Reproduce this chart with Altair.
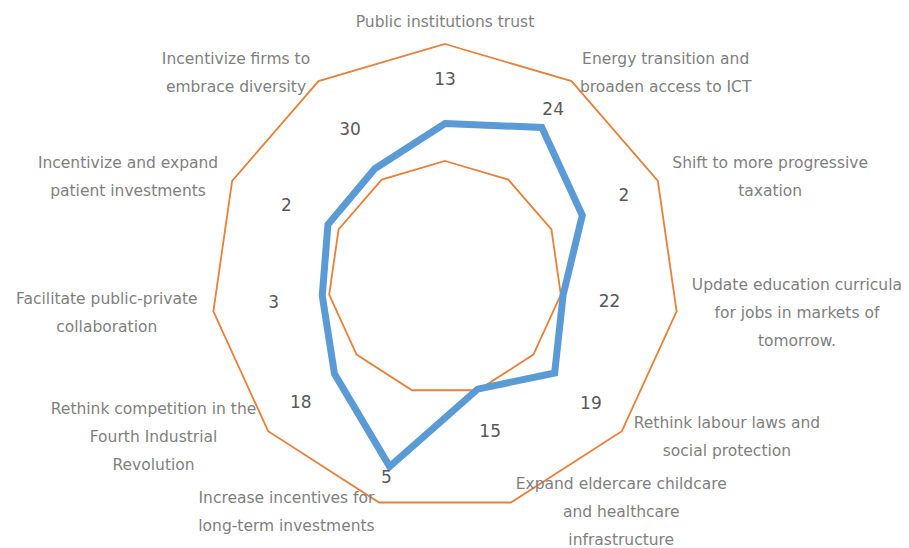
import math
import altair as alt
import pandas as pd

# ---------------- data ----------------
categories = [
    "Public institutions trust",
    "Energy transition and\nbroaden access to ICT",
    "Shift to more progressive\ntaxation",
    "Update education curricula\nfor jobs in markets of\ntomorrow.",
    "Rethink labour laws and\nsocial protection",
    "Expand eldercare childcare\nand healthcare\ninfrastructure",
    "Increase incentives for\nlong-term investments",
    "Rethink competition in the\nFourth Industrial\nRevolution",
    "Facilitate public-private\ncollaboration",
    "Incentivize and expand\npatient investments",
    "Incentivize firms to\nembrace diversity",
]
series_values = [1.32, 1.53, 1.29, 1.02, 1.24, 0.99, 1.68, 1.25, 1.06, 1.10, 1.11]
number_labels = [13, 24, 2, 22, 19, 15, 5, 18, 3, 2, 30]
grid_levels = [1, 2]

# layout (radius of the number annotations, in radial units)
number_radius = [1.69, 1.71, 1.68, 1.42, 1.65, 1.37, 1.78, 1.63, 1.48, 1.49, 1.50]
LABEL_RX = 2.13
LABEL_RY = 2.08
LABEL_R_TOP = 2.19
PX_PER_UNIT = 117.0
FONT_SIZE = 15.5
LINE_H = 28

# approximate DejaVu Sans advance widths (em) used to centre the label blocks
CHAR_EM = {
    " ": 0.318, "a": 0.613, "b": 0.635, "c": 0.550, "d": 0.635, "e": 0.615,
    "f": 0.352, "g": 0.635, "h": 0.634, "i": 0.278, "j": 0.278, "k": 0.579,
    "l": 0.278, "m": 0.974, "n": 0.634, "o": 0.612, "p": 0.635, "r": 0.411,
    "s": 0.521, "t": 0.392, "u": 0.634, "v": 0.592, "w": 0.818, "x": 0.592,
    "y": 0.592, "z": 0.525, "-": 0.361, ".": 0.318, "E": 0.632, "F": 0.575,
    "I": 0.295, "P": 0.603, "R": 0.695, "S": 0.635, "T": 0.611, "U": 0.732,
    "C": 0.698,
}


def text_px(s):
    return sum(CHAR_EM.get(ch, 0.6) for ch in s) * FONT_SIZE


N = len(categories)


def ang(i):
    return i * 2 * math.pi / N


# ---------------- tables ----------------
series_df = pd.DataFrame({"idx": range(N), "value": series_values})

grid_rows = []
for lvl in grid_levels:
    for i in range(N):
        grid_rows.append({"level": lvl, "idx": i, "value": lvl})
grid_df = pd.DataFrame(grid_rows)

lab_rows = []
for i, c in enumerate(categories):
    a = ang(i)
    s, co = math.sin(a), math.cos(a)
    lines = c.split("\n")
    half_w = max(text_px(l) for l in lines) / 2 / PX_PER_UNIT
    if abs(s) < 1e-6:
        side, ry = 0, LABEL_R_TOP
    else:
        side, ry = (1 if s > 0 else -1), LABEL_RY
    # vega draws the first line at y: shift so the block is centred on the anchor
    first_line_shift = (len(lines) - 1) * LINE_H / 2 / PX_PER_UNIT
    lab_rows.append({
        "label": c,
        "x": LABEL_RX * s + side * half_w,
        "y": ry * co + first_line_shift,
    })
lab_df = pd.DataFrame(lab_rows)

num_df = pd.DataFrame({"idx": range(N), "num": number_labels, "r": number_radius})

# ---------------- scales ----------------
W, H = 909, 548
CX, CY = 445, 278
xdom = [-CX / PX_PER_UNIT, (W - CX) / PX_PER_UNIT]
ydom = [-(H - CY) / PX_PER_UNIT, CY / PX_PER_UNIT]
xs = alt.Scale(domain=xdom, nice=False, zero=False)
ys = alt.Scale(domain=ydom, nice=False, zero=False)

polar_x = f"datum.value * sin(datum.idx * 2 * PI / {N})"
polar_y = f"datum.value * cos(datum.idx * 2 * PI / {N})"

grid = alt.Chart(grid_df).transform_calculate(
    px=polar_x, py=polar_y
).mark_line(color="#E8803A", strokeWidth=1.8, interpolate="linear-closed").encode(
    x=alt.X("px:Q", scale=xs, axis=None),
    y=alt.Y("py:Q", scale=ys, axis=None),
    detail="level:N",
    order="idx:Q",
)

series = alt.Chart(series_df).transform_calculate(
    px=polar_x, py=polar_y
).mark_line(color="#5B9BD5", strokeWidth=7, interpolate="linear-closed",
            strokeJoin="miter").encode(
    x=alt.X("px:Q", scale=xs, axis=None),
    y=alt.Y("py:Q", scale=ys, axis=None),
    order="idx:Q",
)

labels = alt.Chart(lab_df).mark_text(
    font="DejaVu Sans", fontSize=FONT_SIZE, color="#7F7F7F", align="center",
    baseline="middle", lineBreak="\n", lineHeight=LINE_H,
).encode(
    x=alt.X("x:Q", scale=xs, axis=None),
    y=alt.Y("y:Q", scale=ys, axis=None),
    text="label:N",
)

numbers = alt.Chart(num_df).transform_calculate(
    px=f"datum.r * sin(datum.idx * 2 * PI / {N})",
    py=f"datum.r * cos(datum.idx * 2 * PI / {N})",
).mark_text(
    font="DejaVu Sans", fontSize=17, color="#595959", align="center", baseline="middle",
).encode(
    x=alt.X("px:Q", scale=xs, axis=None),
    y=alt.Y("py:Q", scale=ys, axis=None),
    text="num:N",
)

chart = alt.layer(grid, series, labels, numbers).properties(
    width=W, height=H, padding=0, autosize=alt.AutoSizeParams(type="none"),
    background="white",
).configure_view(stroke=None)

chart.save("out.html", embed_options={"renderer": "svg", "actions": False})
